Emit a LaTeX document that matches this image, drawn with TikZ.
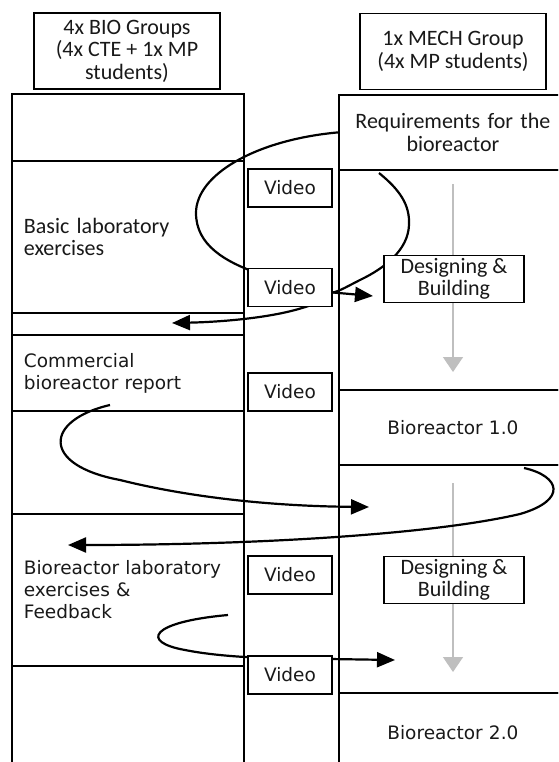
\documentclass[tikz,border=0pt]{standalone}
\usepackage{fontspec}
\setmainfont{Carlito}
\newfontfamily\verd{DejaVu Sans}
\usetikzlibrary{arrows.meta,calc,backgrounds}
\begin{document}
\begin{tikzpicture}[x=1pt,y=-1pt,
  calf/.style={font=\fontsize{22}{22.5}\selectfont},
  verf/.style={font=\verd\fontsize{18.5}{22}\selectfont},
  hdr/.style={draw,line width=1.8pt,calf,text=black!90,align=center,minimum width=186pt,minimum height=76pt,inner sep=0pt},
  lcell/.style={draw,line width=1.8pt,anchor=north west,minimum width=232pt,text width=208pt,inner xsep=12pt,inner ysep=0pt,align=left,text=black!90},
  rcell/.style={draw,line width=1.8pt,anchor=north west,minimum width=228pt,text width=208pt,inner xsep=10pt,inner ysep=0pt,align=center,text=black!90},
  video/.style={draw,fill=white,line width=1.8pt,verf,text=black!90,minimum width=84pt,minimum height=38pt,inner sep=0pt},
  design/.style={draw,fill=white,line width=1.8pt,calf,text=black!90,align=center,minimum width=140pt,minimum height=47pt,inner sep=0pt},
  flow/.style={line width=2.2pt,-{Triangle[length=18pt,width=15pt]}},
  plainflow/.style={line width=2.2pt},
  grayarrow/.style={draw=black!25,line width=1.5pt,-{Triangle[length=15pt,width=20pt]}}
]
\useasboundingbox (0,0) rectangle (558,762);
\clip (0,0) rectangle (558,762);

% headers
\node[hdr] (H1) at (127,51) {4x BIO Groups\\(4x CTE + 1x MP\\students)};
\node[hdr] (H2) at (453,51.5) {1x MECH Group\\(4x MP students)};

% left column
\node[lcell,minimum height=67pt] (L0) at (11,93) {};
\node[lcell,calf,minimum height=152pt] (L1) at (11,160) {Basic laboratory\\exercises};
\node[lcell,minimum height=22pt] (L2) at (11,312) {};
\node[lcell,verf,minimum height=76pt] (L3) at (11,334) {Commercial\\bioreactor report};
\node[lcell,minimum height=103pt] (L4) at (11,410) {};
\node[lcell,verf,minimum height=152pt] (L5) at (11,513) {Bioreactor laboratory\\exercises \&\\Feedback};
\node[lcell,minimum height=130pt] (L6) at (11,665) {};

% right column
\node[rcell,calf,minimum height=75pt] (R0) at (338,94) {Requirements for the\\bioreactor};
\node[rcell,minimum height=220pt] (R1) at (338,169) {};
\node[rcell,verf,minimum height=75pt] (R2) at (338,389) {Bioreactor 1.0};
\node[rcell,minimum height=228pt] (R3) at (338,464) {};
\node[rcell,verf,minimum height=80pt] (R4) at (338,692) {Bioreactor 2.0};

% video boxes
\node[video] (V1) at (290,188) {Video};
\node[video] (V2) at (290,287.5) {Video};
\node[video] (V3) at (290,392) {Video};
\node[video] (V5) at (290,575) {Video};
\node[video] (V4) at (290,675) {Video};

% designing boxes
\node[design] (D1) at (454,279) {Designing \&\\Building};
\node[design] (D2) at (454,580) {Designing \&\\Building};

% free ends
\coordinate (aL2) at (172,323);
\coordinate (bS) at (379,173);
\coordinate (cE) at (373,296);
\coordinate (c3S) at (110,405);
\coordinate (c3E) at (369,507);
\coordinate (c4S) at (524,468);
\coordinate (c4E) at (68,545);
\coordinate (c5S) at (228,615);
\coordinate (c5E) at (395,660);
\coordinate (g1S) at (453,184);
\coordinate (g1E) at (453,372);
\coordinate (g2S) at (453,483);
\coordinate (g2E) at (453,672);

\begin{pgfonlayer}{background}
\draw[grayarrow] (g1S) -- (g1E);
\draw[grayarrow] (g2S) -- (g2E);
% loop from requirements to left column
\draw[flow] (R0.west) .. controls (255,140) and (196,175) .. (196,213)
  .. controls (196,245) and (225,262) .. (260,274)
  .. controls (330,298) and (320,303) .. (302,308)
  .. controls (270,318) and (220,322) .. (aL2);
% loop from requirements to video 2
\draw[plainflow] (bS) .. controls (400,190) and (410,205) .. (409,225)
  .. controls (408,250) and (385,268) .. (360,280)
  .. controls (348,286) and (340,291) .. ($(V2.east)+(0,5)$);
\end{pgfonlayer}
\draw[flow] ($(V2.east)+(0,5)$) -- (cE);
\begin{pgfonlayer}{background}
\draw[flow] (c3S) .. controls (45,420) and (40,465) .. (120,480)
  .. controls (180,495) and (260,506) .. (c3E);
\draw[flow] (c4S) .. controls (560,476) and (568,500) .. (520,514)
  .. controls (430,535) and (250,545) .. (c4E);
\draw[flow] (c5S) .. controls (150,622) and (140,642) .. (185,650)
  .. controls (210,655) and (240,657) .. (265,658) -- (c5E);
\end{pgfonlayer}
\end{tikzpicture}
\end{document}
